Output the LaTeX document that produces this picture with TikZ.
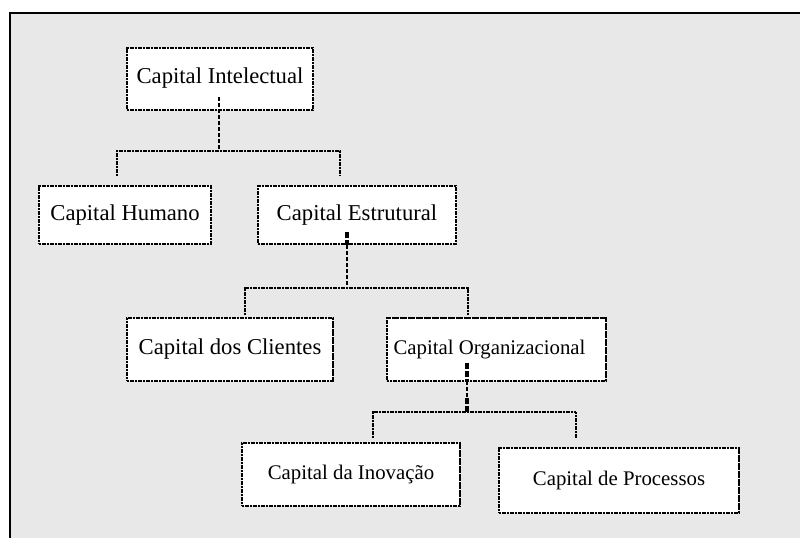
\documentclass[tikz,border=0pt]{standalone}
\usepackage{fontspec}
\setmainfont{Liberation Serif}
\begin{document}
\begin{tikzpicture}[x=0.75pt,y=-0.75pt,
  box/.style={draw=black, fill=white, line width=1.2pt,
    dash pattern=on 1.6pt off 0.4pt, inner sep=0pt,
    font=\fontsize{17}{20}\selectfont},
  smalltext/.style={font=\fontsize{15.6}{19}\selectfont},
  bus/.style={draw=black, line width=1.2pt, dash pattern=on 1.6pt off 0.4pt},
  stem/.style={draw=black, line width=1pt, dash pattern=on 3pt off 1.5pt},
  stemthick/.style={draw=black, line width=2.6pt, dash pattern=on 4.5pt off 1.5pt}]
\useasboundingbox (0,0) rectangle (800,537);
\clip (0,0) rectangle (800,537);
% panel
\draw[fill={rgb,255:red,232;green,232;blue,232}, line width=2pt]
  (10,13) rectangle (815,560);

% boxes
\node[box, minimum width=139.5pt, minimum height=46.5pt]
  (ci) at (220,79) {\raisebox{5pt}{Capital Intelectual}};
\node[box, minimum width=129pt, minimum height=43.5pt] (hum) at (125,215)
  {\raisebox{-3.6pt}{Capital Humano}};
\node[box, minimum width=148.5pt, minimum height=43.5pt] (est) at (357,215)
  {\raisebox{-3.6pt}{Capital Estrutural}};
\node[box, minimum width=154.5pt, minimum height=47pt] (cli) at (230,349.5)
  {\raisebox{-1.6pt}{Capital dos Clientes}};
\node[box, smalltext, minimum width=164pt, minimum height=47pt] (org) at (496.5,349.5)
  {\raisebox{-2pt}{Capital Organizacional}\hspace*{10.5pt}};
\node[box, smalltext, minimum width=163.5pt, minimum height=47pt] (ino) at (351,474.5)
  {\raisebox{-2.7pt}{Capital da Inova\c{c}\~ao}};
\node[box, smalltext, minimum width=180pt, minimum height=48.5pt] (pro) at (619,480.5)
  {\raisebox{-2.8pt}{Capital de Processos}};

% level 1 joints
\coordinate (s1) at (219,97);
\coordinate (j1) at (219,151);
\coordinate (a1) at (117,176);
\coordinate (b1) at (340,176);
\draw[stem] (s1) -- (j1);
\draw[bus] (a1) -- (a1 |- j1) -- (b1 |- j1) -- (b1);

% level 2 joints
\coordinate (s2) at (347,232);
\coordinate (m2) at (347,245);
\coordinate (j2) at (347,288);
\coordinate (a2) at (245,315);
\coordinate (b2) at (468,315);
\draw[stemthick] (s2) -- (m2);
\draw[stem, line width=1.4pt] (m2) -- (j2);
\draw[bus] (a2) -- (a2 |- j2) -- (b2 |- j2) -- (b2);

% level 3 joints
\coordinate (s3) at (467,363);
\coordinate (m3) at (467,381);
\coordinate (n3) at (467,398);
\coordinate (j3) at (467,412);
\coordinate (a3) at (373,438);
\coordinate (b3) at (576,438);
\draw[stemthick] (s3) -- (m3);
\draw[stem, line width=1.4pt] (m3) -- (n3);
\draw[stemthick] (n3) -- (j3);
\draw[bus] (a3) -- (a3 |- j3) -- (b3 |- j3) -- (b3);
\end{tikzpicture}
\end{document}
